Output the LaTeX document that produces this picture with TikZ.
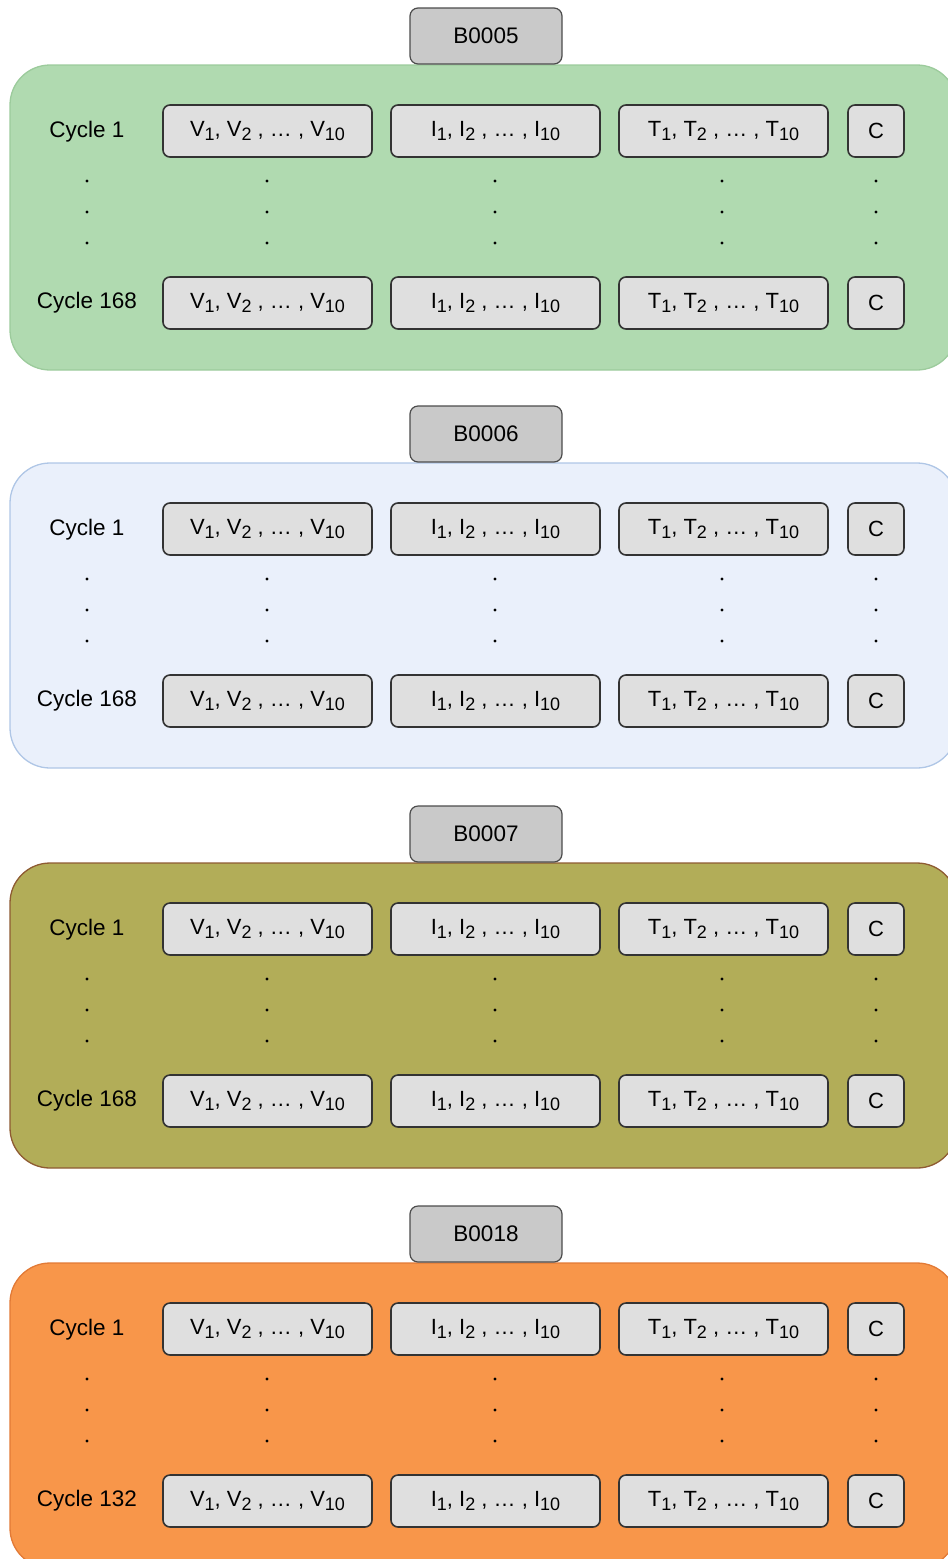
\documentclass[tikz,border=0pt]{standalone}
\usepackage{fontspec}
\setmainfont{Liberation Sans}
\definecolor{greenbg}{HTML}{B0DAB0}
\definecolor{greenln}{HTML}{9CCB9C}
\definecolor{bluebg}{HTML}{EAF0FB}
\definecolor{blueln}{HTML}{AFC6E6}
\definecolor{olivebg}{HTML}{B2AD58}
\definecolor{oliveln}{HTML}{8E5B32}
\definecolor{orangebg}{HTML}{F8964A}
\definecolor{orangeln}{HTML}{E27A36}
\newcommand{\idx}[1]{\raisebox{-0.3ex}{\fontsize{18}{18}\selectfont #1}}
\newcommand{\seq}[1]{#1\idx{1}, #1\idx{2} , … , #1\idx{10}}
\begin{document}
\begin{tikzpicture}[x=1pt, y=-1pt,
    cell/.style={draw=black!80, fill=gray!25, rounded corners=7pt, line width=1.6pt,
                 minimum height=52pt, inner sep=0pt, font=\fontsize{22}{25}\selectfont},
    tag/.style={draw=gray!60!black, fill=gray!42, rounded corners=8pt, line width=1.2pt,
                minimum width=152pt, minimum height=56pt, font=\fontsize{22.5}{25}\selectfont},
    cyc/.style={font=\fontsize{22.5}{25}\selectfont},
    panel/.style={rounded corners=40pt, line width=1.3pt, minimum width=947pt, minimum height=305pt}]
    \useasboundingbox (0,0) rectangle (948,1559);
    \clip (0,0) rectangle (948,1559);

    \foreach \o/\b/\bg/\ln/\n [count=\k] in {0/B0005/greenbg/greenln/168, 398/B0006/bluebg/blueln/168,
                                             798/B0007/olivebg/oliveln/168, 1198/B0018/orangebg/orangeln/132} {
        \node[panel, draw=\ln, fill=\bg] (p\k) at (483.5, 217.5+\o) {};
        \node[tag] (b\k) at (486, 36+\o) {\b};

        \node[cyc] (c1\k) at (87, 132+\o) {Cycle 1};
        \node[cell, minimum width=209pt] (v1\k) at (267.5, 131+\o) {\seq{V}};
        \node[cell, minimum width=209pt] (i1\k) at (495.5, 131+\o) {\seq{I}};
        \node[cell, minimum width=209pt] (t1\k) at (723.5, 131+\o) {\seq{T}};
        \node[cell, minimum width=56pt] (k1\k) at (876, 131+\o) {C};

        \node[cyc] (c2\k) at (87, 303+\o) {Cycle \n};
        \node[cell, minimum width=209pt] (v2\k) at (267.5, 303+\o) {\seq{V}};
        \node[cell, minimum width=209pt] (i2\k) at (495.5, 303+\o) {\seq{I}};
        \node[cell, minimum width=209pt] (t2\k) at (723.5, 303+\o) {\seq{T}};
        \node[cell, minimum width=56pt] (k2\k) at (876, 303+\o) {C};

        % vertical dots between the two rows
        \foreach \x in {87, 267, 495, 722, 876}
            \foreach \y in {181, 212, 243}
                \fill (\x, \y+\o) circle (1.7pt);
    }
\end{tikzpicture}
\end{document}
